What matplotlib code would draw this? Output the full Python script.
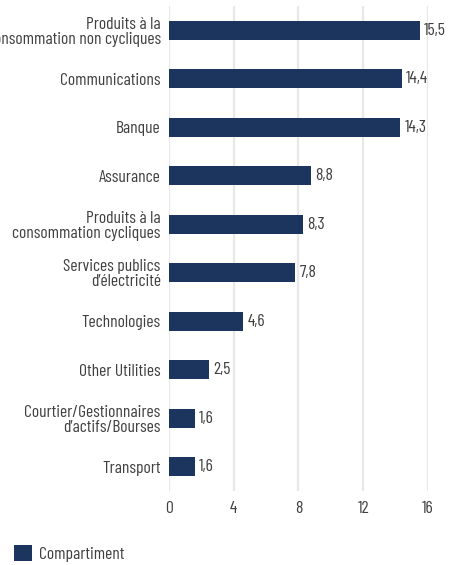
import matplotlib
matplotlib.use("Agg")
import matplotlib.pyplot as plt

plt.rcParams['font.family'] = ['Barlow Condensed', 'DejaVu Sans']
plt.rcParams['font.weight'] = 'normal'

categories = ["Produits à la\nconsommation non cycliques", "Communications", "Banque", "Assurance",
              "Produits à la\nconsommation cycliques", "Services publics\nd’électricité", "Technologies",
              "Other Utilities", "Courtier/Gestionnaires\nd’actifs/Bourses", "Transport"]
values = [15.5, 14.4, 14.3, 8.8, 8.3, 7.8, 4.6, 2.5, 1.6, 1.6]
value_labels = ["15,5", "14,4", "14,3", "8,8", "8,3", "7,8", "4,6", "2,5", "1,6", "1,6"]
xticks = [0, 4, 8, 12, 16]
legend_label = "Compartiment"

bar_color = "#1c355e"
text_color = "#404040"
fs = 12.6

fig = plt.figure(figsize=(4.52, 5.65), dpi=100)
ax = fig.add_axes([169/452, 1-491/565, (428-169)/452, (491-6)/565])

ypos = list(range(len(categories)))
ax.barh(ypos, values, height=0.39, color=bar_color, zorder=3, label=legend_label)
for y, v, lab in zip(ypos, values, value_labels):
    ax.text(v + 0.25, y, lab, va='center', ha='left', fontsize=fs, color=text_color)

ax.set_ylim(len(categories) - 0.5, -0.5)
ax.set_xlim(0, 16)
ax.set_xticks(xticks)
ax.set_xticklabels([str(t) for t in xticks], fontsize=fs, color=text_color)
ax.set_yticks(ypos)
ax.set_yticklabels(categories, fontsize=fs, color=text_color, linespacing=1.0)
ax.tick_params(axis='both', length=0)
ax.tick_params(axis='y', pad=6)
ax.tick_params(axis='x', pad=7)
for s in ax.spines.values():
    s.set_visible(False)
ax.grid(axis='x', color='#e8e8e8', linewidth=1.6, zorder=0)
ax.set_axisbelow(True)

fig.legend(loc='lower left', bbox_to_anchor=(14/452, 3/565), frameon=False, fontsize=fs,
           borderaxespad=0, borderpad=0,
           handlelength=1.0, handleheight=1.0, handletextpad=0.45, labelcolor=text_color)

fig.savefig("out.png", dpi=100)
